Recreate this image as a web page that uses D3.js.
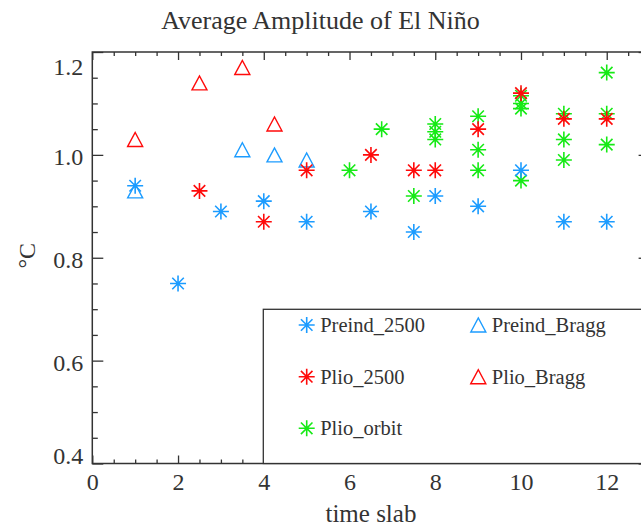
<!DOCTYPE html>
<html>
<head>
<meta charset="utf-8">
<script src="https://cdn.jsdelivr.net/npm/d3@7"></script>
<style>
  html, body { margin: 0; padding: 0; background: #fff; }
  svg { display: block; }
  text { font-family: "Liberation Serif", "Times New Roman", serif; fill: #333; }
</style>
</head>
<body>
<script>
// ---------------- data ----------------
const titleText = "Average Amplitude of El Niño";
const xTitle = "time slab";
const yTitle = "°C";

const xTickValues = [0, 2, 4, 6, 8, 10, 12];
const yTickValues = [0.4, 0.6, 0.8, 1.0, 1.2];

const preind2500X = [1, 2, 3, 4, 5, 6.5, 7.5, 8, 9, 10, 11, 12];
const preind2500Y = [0.94, 0.75, 0.89, 0.91, 0.87, 0.89, 0.85, 0.92, 0.90, 0.97, 0.87, 0.87];

const preindBraggX = [1, 3.5, 4.25, 5];
const preindBraggY = [0.93, 1.01, 1.00, 0.99];

const plio2500X = [2.5, 4, 5, 6.5, 7.5, 8, 9, 10, 11, 12];
const plio2500Y = [0.93, 0.87, 0.97, 1.00, 0.97, 0.97, 1.05, 1.12, 1.07, 1.07];

const plioBraggX = [1, 2.5, 3.5, 4.25];
const plioBraggY = [1.03, 1.14, 1.17, 1.06];

const plioOrbitX = [6, 6.75, 7.5, 8, 8, 8, 9, 9, 9, 10, 10, 10, 10, 11, 11, 11, 12, 12, 12];
const plioOrbitY = [0.97, 1.05, 0.92, 1.06, 1.045, 1.03, 1.075, 1.01, 0.97, 1.115, 1.10, 1.09, 0.95, 1.08, 1.03, 0.99, 1.16, 1.08, 1.02];

const seriesNames = ["Preind_2500", "Preind_Bragg", "Plio_2500", "Plio_Bragg", "Plio_orbit"];
const seriesColors = { Preind_2500: "#1c9cff", Preind_Bragg: "#1c9cff", Plio_2500: "#ff0a0a", Plio_Bragg: "#ff0a0a", Plio_orbit: "#16ea16" };
const seriesSymbols = { Preind_2500: "asterisk", Preind_Bragg: "triangle", Plio_2500: "asterisk", Plio_Bragg: "triangle", Plio_orbit: "asterisk" };

// ---------------- layout ----------------
const W = 641, H = 529;
const pLeft = 92.3, pRight = 649.6, pTop = 52, pBottom = 463.5;
const axisColor = "#333";

const svg = d3.select("body").append("svg").attr("width", W).attr("height", H);

const x = d3.scaleLinear().domain([0, 13]).range([pLeft, pRight]);
const y = d3.scaleLinear().domain([0.4, 1.2]).range([pBottom, pTop]);

const xMinor = d3.range(0, 13.01, 0.5).filter(v => Math.abs(v % 2) > 1e-6);
const yMinor = d3.range(0.4, 1.2001, 0.05).filter(v => !yTickValues.some(t => Math.abs(t - v) < 1e-6));

function styleAxis(g) {
  g.select(".domain").remove();
  g.selectAll("line").attr("stroke", axisColor).attr("stroke-width", 1.3);
}

// bottom axis
svg.append("g").attr("transform", `translate(0,${pBottom})`)
  .call(d3.axisBottom(x).tickValues(xTickValues).tickSize(-8).tickSizeOuter(0).tickPadding(9).tickFormat(d3.format("d")))
  .call(styleAxis)
  .call(g => g.selectAll("text").attr("font-size", 24).attr("font-family", "Liberation Serif").attr("fill", "#333"));
svg.append("g").attr("transform", `translate(0,${pBottom})`)
  .call(d3.axisBottom(x).tickValues(xMinor).tickSize(-4).tickSizeOuter(0).tickFormat(""))
  .call(styleAxis);
// top axis
svg.append("g").attr("transform", `translate(0,${pTop})`)
  .call(d3.axisTop(x).tickValues(xTickValues).tickSize(-8).tickSizeOuter(0).tickFormat(""))
  .call(styleAxis);
svg.append("g").attr("transform", `translate(0,${pTop})`)
  .call(d3.axisTop(x).tickValues(xMinor).tickSize(-4).tickSizeOuter(0).tickFormat(""))
  .call(styleAxis);
// left axis (labels kept inside the axis span, as in the original)
svg.append("g").attr("transform", `translate(${pLeft},0)`)
  .call(d3.axisLeft(y).tickValues(yTickValues).tickSize(-11).tickSizeOuter(0).tickPadding(9).tickFormat(d3.format(".1f")))
  .call(styleAxis)
  .call(g => g.selectAll("text")
    .attr("font-size", 24).attr("font-family", "Liberation Serif").attr("fill", "#333")
    .attr("dy", "0.42em")
    .attr("y", d => {
      const c = Math.min(Math.max(y(d), pTop + 12), pBottom - 10);
      return c - y(d);
    }));
svg.append("g").attr("transform", `translate(${pLeft},0)`)
  .call(d3.axisLeft(y).tickValues(yMinor).tickSize(-5.5).tickSizeOuter(0).tickFormat(""))
  .call(styleAxis);
// right axis
svg.append("g").attr("transform", `translate(${pRight},0)`)
  .call(d3.axisRight(y).tickValues(yTickValues).tickSize(-11).tickSizeOuter(0).tickFormat(""))
  .call(styleAxis);
svg.append("g").attr("transform", `translate(${pRight},0)`)
  .call(d3.axisRight(y).tickValues(yMinor).tickSize(-5.5).tickSizeOuter(0).tickFormat(""))
  .call(styleAxis);

// frame
svg.append("rect").attr("x", pLeft).attr("y", pTop).attr("width", pRight - pLeft).attr("height", pBottom - pTop)
  .attr("fill", "none").attr("stroke", axisColor).attr("stroke-width", 1.5);

// titles
svg.append("text").attr("x", W / 2).attr("y", 29).attr("text-anchor", "middle")
  .attr("font-size", 26).text(titleText);
svg.append("text").attr("x", (pLeft + pRight) / 2).attr("y", 522).attr("text-anchor", "middle")
  .attr("font-size", 25).text(xTitle);
svg.append("text").attr("transform", `translate(35,${(pTop + pBottom) / 2 - 2}) rotate(-90)`)
  .attr("text-anchor", "middle").attr("font-size", 24).text(yTitle);

// ---------------- symbols ----------------
const R = 8;
function drawSymbol(g, type, cx, cy, color) {
  if (type === "asterisk") {
    const d = R * 0.72;
    const p = `M${cx - R},${cy}L${cx + R},${cy}M${cx},${cy - R}L${cx},${cy + R}` +
              `M${cx - d},${cy - d}L${cx + d},${cy + d}M${cx - d},${cy + d}L${cx + d},${cy - d}`;
    g.append("path").attr("d", p).attr("stroke", color).attr("stroke-width", 1.6).attr("fill", "none");
  } else {
    const hw = 7.5, hh = 7;
    const p = `M${cx - hw},${cy + hh}L${cx},${cy - hh}L${cx + hw},${cy + hh}Z`;
    g.append("path").attr("d", p).attr("stroke", color).attr("stroke-width", 1.4).attr("fill", "none")
      .attr("stroke-linejoin", "miter");
  }
}

const series = {
  Plio_orbit: [plioOrbitX, plioOrbitY],
  Preind_2500: [preind2500X, preind2500Y],
  Preind_Bragg: [preindBraggX, preindBraggY],
  Plio_2500: [plio2500X, plio2500Y],
  Plio_Bragg: [plioBraggX, plioBraggY]
};
const marks = svg.append("g");
Object.keys(series).forEach(name => {
  const [xs, ys] = series[name];
  xs.forEach((xv, i) => drawSymbol(marks, seriesSymbols[name], x(xv), y(ys[i]), seriesColors[name]));
});

// ---------------- legend ----------------
const lg = svg.append("g");
lg.append("rect").attr("x", 263.3).attr("y", 309.3).attr("width", 420).attr("height", pBottom - 309.3)
  .attr("fill", "#fff").attr("stroke", axisColor).attr("stroke-width", 1.3);
const legendPos = {
  Preind_2500: [306.7, 325], Preind_Bragg: [478.3, 325],
  Plio_2500: [306.7, 376.7], Plio_Bragg: [478.3, 376.7],
  Plio_orbit: [306.7, 428.3]
};
seriesNames.forEach(name => {
  const [lx, ly] = legendPos[name];
  drawSymbol(lg, seriesSymbols[name], lx, ly, seriesColors[name]);
  lg.append("text").attr("x", lx + 13.5).attr("y", ly + 7).attr("font-size", 20.5)
    .attr("fill", "#222").text(name);
});
</script>
</body>
</html>
